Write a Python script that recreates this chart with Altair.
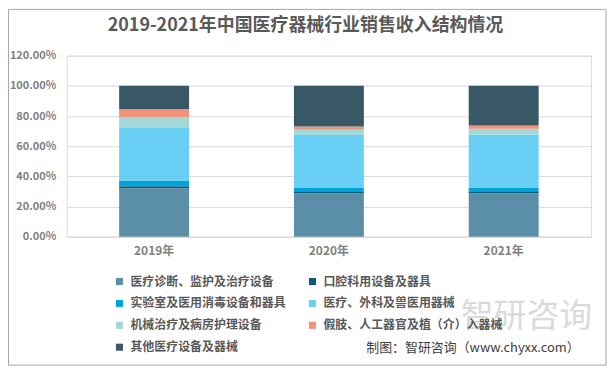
import altair as alt
import pandas as pd

years = ["2019年", "2020年", "2021年"]
categories = [
    "医疗诊断、监护及治疗设备",
    "口腔科用设备及器具",
    "实验室及医用消毒设备和器具",
    "医疗、外科及兽医用器械",
    "机械治疗及病房护理设备",
    "假肢、人工器官及植（介）入器械",
    "其他医疗设备及器械",
]
colors = ["#5B8FA8", "#0E5C7A", "#00A3DA", "#6ACFF5", "#A2D9D6", "#F0937A", "#385866"]
values_2019 = [0.322, 0.013, 0.037, 0.349, 0.072, 0.053, 0.154]
values_2020 = [0.289, 0.007, 0.031, 0.351, 0.031, 0.022, 0.269]
values_2021 = [0.289, 0.007, 0.031, 0.351, 0.037, 0.022, 0.263]
series = [values_2019, values_2020, values_2021]

rows = []
for y, vals in zip(years, series):
    for i, (c, v) in enumerate(zip(categories, vals)):
        rows.append({"year": y, "cat": c, "idx": i, "value": v})
df = pd.DataFrame(rows)

FONT = "Noto Sans CJK SC"

bars = alt.Chart(df).mark_bar().encode(
    x=alt.X("year:N", sort=years, title=None,
            scale=alt.Scale(paddingInner=0.6, paddingOuter=0.3),
            axis=alt.Axis(labelAngle=0, ticks=False, domain=True, domainColor="#D9D9D9",
                          labelPadding=9, labelFontSize=12, labelColor="#7F7F7F",
                          labelFont=FONT, labelFontWeight="bold")),
    y=alt.Y("value:Q", stack="zero", title=None,
            scale=alt.Scale(domain=[0, 1.2], nice=False),
            axis=alt.Axis(format=".2%", values=[0, 0.2, 0.4, 0.6, 0.8, 1.0, 1.2],
                          ticks=False, domain=False, gridColor="#D9D9D9",
                          labelPadding=11, labelFontSize=11, labelColor="#7F7F7F",
                          labelFont=FONT, labelFontWeight="bold")),
    color=alt.Color("cat:N", sort=categories, title=None,
                    scale=alt.Scale(domain=categories, range=colors),
                    legend=alt.Legend(orient="none", legendX=47, legendY=221, columns=2,
                                      direction="horizontal", symbolType="square",
                                      symbolSize=50, symbolStrokeWidth=0,
                                      labelFontSize=12, labelColor="#595959",
                                      labelFont=FONT, labelFontWeight="bold",
                                      labelLimit=300, columnPadding=20, rowPadding=10,
                                      labelOffset=5)),
    order=alt.Order("idx:Q", sort="ascending"),
)

one = pd.DataFrame({"k": [0]})

border = alt.Chart(one).mark_rect(fill=None, stroke="#A6A6A6", strokeWidth=1).encode(
    x=alt.value(-58.5), x2=alt.value(542), y=alt.value(-46.5), y2=alt.value(311)
)

title = alt.Chart(one).mark_text(fontSize=18, font=FONT, fontWeight="bold",
                                 color="#595959", align="center", baseline="middle").encode(
    x=alt.value(240), y=alt.value(-30), text=alt.value("2019-2021年中国医疗器械行业销售收入结构情况")
)

watermark = alt.Chart(one).mark_text(fontSize=33, font=FONT, color="#DADADA",
                                     align="left", baseline="middle").encode(
    x=alt.value(396), y=alt.value(263), text=alt.value("智研咨询")
)

source = alt.Chart(one).mark_text(fontSize=13, font=FONT, color="#404040",
                                  align="left", baseline="middle").encode(
    x=alt.value(301), y=alt.value(294), text=alt.value("制图：智研咨询（www.chyxx.com）")
)

chart = alt.layer(border, watermark, bars, title, source).properties(
    width=527, height=182,
    padding={"left": 59, "top": 47, "right": 16, "bottom": 130},
    autosize=alt.AutoSizeParams(type="none"),
).configure_view(stroke=None).configure(background="white")

chart.save("out.html", embed_options={"renderer": "svg", "actions": False})
